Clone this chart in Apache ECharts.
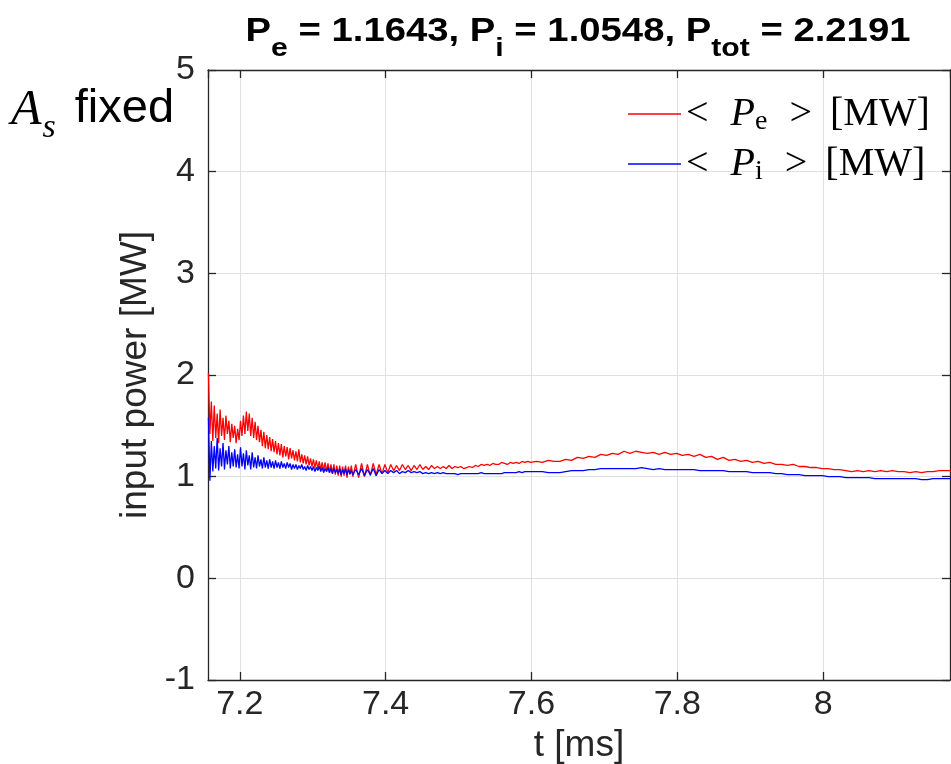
<!DOCTYPE html>
<html>
<head>
<meta charset="utf-8">
<script src="https://cdn.jsdelivr.net/npm/echarts@6/dist/echarts.min.js"></script>
<style>
html,body{margin:0;padding:0;background:#fff;}
#chart{width:951px;height:764px;}
</style>
</head>
<body>
<div id="chart"></div>
<script>
// ---- data ----
const tFast = [
7.157,7.159,7.161,7.163,7.165,7.167,7.169,7.171,7.173,7.175,
7.177,7.179,7.181,7.183,7.185,7.187,7.189,7.191,7.193,7.195,
7.197,7.199,7.201,7.203,7.205,7.207,7.209,7.211,7.213,7.215,
7.217,7.219,7.221,7.223,7.225,7.227,7.229,7.231,7.233,7.235,
7.237,7.239,7.241,7.243,7.245,7.247,7.249,7.251,7.253,7.255,
7.257,7.259,7.261,7.263,7.265,7.267,7.269,7.271,7.273,7.275,
7.277,7.279,7.281,7.283,7.285,7.287,7.289,7.291,7.293,7.295,
7.297,7.299,7.301,7.303,7.305,7.307,7.309,7.311,7.313,7.315,
7.317,7.319,7.321,7.323,7.325,7.327,7.329,7.331,7.333,7.335,
7.337,7.339,7.341,7.343,7.345,7.347,7.349,7.351,7.353,7.355];
const peFast = [
2.02,1.42,1.74,1.35,1.70,1.38,1.62,1.33,1.66,1.40,
1.58,1.36,1.60,1.42,1.55,1.34,1.52,1.38,1.50,1.33,
1.47,1.36,1.55,1.40,1.60,1.42,1.64,1.45,1.62,1.40,
1.58,1.38,1.54,1.36,1.50,1.34,1.46,1.30,1.44,1.28,
1.41,1.27,1.39,1.25,1.37,1.24,1.35,1.22,1.33,1.21,
1.32,1.19,1.30,1.20,1.29,1.17,1.28,1.18,1.26,1.16,
1.25,1.15,1.27,1.14,1.22,1.13,1.21,1.12,1.20,1.11,
1.18,1.10,1.17,1.09,1.16,1.08,1.15,1.07,1.14,1.06,
1.14,1.05,1.13,1.04,1.12,1.03,1.12,1.02,1.11,1.01,
1.11,1.00,1.10,1.01,1.11,0.99,1.10,1.02,1.11,1.00];
const piFast = [
1.58,0.96,1.35,1.05,1.30,1.08,1.38,1.06,1.28,1.10,
1.33,1.07,1.26,1.12,1.30,1.08,1.24,1.10,1.27,1.09,
1.22,1.08,1.29,1.10,1.23,1.07,1.26,1.11,1.21,1.07,
1.24,1.09,1.19,1.08,1.21,1.10,1.17,1.08,1.19,1.09,
1.16,1.08,1.17,1.09,1.15,1.08,1.16,1.09,1.14,1.08,
1.15,1.09,1.13,1.08,1.14,1.09,1.13,1.07,1.12,1.08,
1.12,1.07,1.11,1.08,1.12,1.07,1.10,1.06,1.11,1.07,
1.10,1.06,1.10,1.05,1.09,1.06,1.10,1.05,1.09,1.04,
1.08,1.05,1.09,1.04,1.08,1.03,1.08,1.04,1.07,1.03,
1.08,1.02,1.07,1.03,1.08,1.02,1.07,1.03,1.06,1.02];

const tMid = [
7.359,7.363,7.367,7.371,7.375,7.379,7.383,7.387,7.391,7.395,
7.399,7.403,7.407,7.411,7.415,7.419,7.423,7.427,7.431,7.435,
7.439,7.443,7.447,7.451,7.455,7.459,7.463,7.467,7.471,7.475,
7.479,7.483,7.487,7.491,7.495,7.499,7.503,7.507,7.511,7.515,
7.519,7.523,7.527,7.531,7.535,7.539,7.543,7.547,7.551,7.555,
7.559,7.563,7.567,7.571,7.575,7.579,7.583,7.587,7.591,7.595,
7.599];
const peMid = [
1.12,0.99,1.13,1.00,1.12,1.01,1.13,1.02,1.12,1.03,
1.12,1.04,1.12,1.06,1.11,1.06,1.12,1.07,1.11,1.06,
1.11,1.07,1.12,1.07,1.10,1.07,1.11,1.08,1.10,1.08,
1.10,1.08,1.11,1.08,1.10,1.09,1.10,1.08,1.09,1.10,
1.09,1.11,1.10,1.12,1.11,1.12,1.11,1.13,1.12,1.12,
1.14,1.13,1.12,1.14,1.13,1.14,1.13,1.15,1.14,1.15,
1.14];
const piMid = [
1.07,1.02,1.08,1.01,1.07,1.02,1.08,1.01,1.07,1.03,
1.06,1.03,1.06,1.04,1.06,1.03,1.05,1.04,1.06,1.04,
1.05,1.04,1.05,1.03,1.04,1.03,1.04,1.03,1.04,1.03,
1.04,1.03,1.03,1.03,1.03,1.02,1.03,1.03,1.03,1.03,
1.03,1.03,1.03,1.04,1.03,1.03,1.03,1.03,1.03,1.03,
1.03,1.04,1.04,1.04,1.04,1.04,1.05,1.04,1.05,1.05,
1.05];

const tSlow = [
7.607,7.615,7.623,7.631,7.639,7.647,7.655,7.663,7.671,7.679,
7.687,7.695,7.703,7.711,7.719,7.727,7.735,7.743,7.751,7.759,
7.767,7.775,7.783,7.791,7.799,7.807,7.815,7.823,7.831,7.839,
7.847,7.855,7.863,7.871,7.879,7.887,7.895,7.903,7.911,7.919,
7.927,7.935,7.943,7.951,7.959,7.967,7.975,7.983,7.991,7.999,
8.007,8.015,8.023,8.031,8.039,8.047,8.055,8.063,8.071,8.079,
8.087,8.095,8.103,8.111,8.119,8.127,8.135,8.143,8.151,8.159,
8.167,8.175];
const peSlow = [
1.15,1.14,1.16,1.15,1.15,1.17,1.16,1.19,1.18,1.20,
1.19,1.22,1.21,1.23,1.22,1.25,1.23,1.25,1.24,1.23,
1.24,1.22,1.24,1.22,1.23,1.21,1.22,1.20,1.22,1.19,
1.20,1.17,1.19,1.16,1.17,1.15,1.16,1.14,1.15,1.13,
1.14,1.12,1.12,1.11,1.12,1.10,1.10,1.09,1.09,1.08,
1.08,1.07,1.07,1.06,1.05,1.06,1.05,1.06,1.05,1.06,
1.05,1.06,1.05,1.05,1.04,1.05,1.04,1.05,1.05,1.06,
1.06,1.06];
const piSlow = [
1.05,1.05,1.04,1.04,1.04,1.05,1.06,1.06,1.06,1.07,
1.07,1.08,1.08,1.08,1.08,1.08,1.08,1.08,1.09,1.08,
1.07,1.08,1.07,1.07,1.07,1.07,1.07,1.07,1.06,1.06,
1.06,1.06,1.06,1.05,1.05,1.05,1.05,1.04,1.04,1.04,
1.04,1.03,1.03,1.02,1.02,1.02,1.01,1.01,1.01,1.01,
1.00,1.00,1.00,0.99,0.99,0.99,0.99,0.99,0.98,0.98,
0.98,0.98,0.98,0.98,0.98,0.98,0.97,0.97,0.98,0.98,
0.98,0.98];

const xRange = [7.1564, 8.174];
const yRange = [-1, 5];
const seriesNames = ['Pe', 'Pi'];
const titleText = '{b|P}{s|e}{b| = 1.1643, P}{s|i}{b| = 1.0548, P}{s|tot}{b| = 2.2191}';

// ---- build ----
function pairs(ts, vs) { return ts.map((t, i) => [t, vs[i]]); }
const peData = pairs(tFast, peFast).concat(pairs(tMid, peMid), pairs(tSlow, peSlow));
const piData = pairs(tFast, piFast).concat(pairs(tMid, piMid), pairs(tSlow, piSlow));

const AX = '#262626';
const GRID = '#e0e0e0';
const SANS = 'Liberation Sans';
const SERIF = 'Liberation Serif';

const chart = echarts.init(document.getElementById('chart'), null, {renderer: 'canvas'});

const legendRich = {
  n: {fontFamily: SERIF, fontSize: 40, lineHeight: 44, color: '#000'},
  g: {fontFamily: SERIF, fontSize: 40, lineHeight: 44, color: '#000', width: 22},
  g2: {fontFamily: SERIF, fontSize: 40, lineHeight: 44, color: '#000', width: 18},
  i: {fontFamily: SERIF, fontStyle: 'italic', fontSize: 40, lineHeight: 44, color: '#000'},
  s: {fontFamily: SERIF, fontSize: 28, lineHeight: 30, color: '#000', verticalAlign: 'bottom'}
};

const option = {
  animation: false,
  backgroundColor: '#ffffff',
  grid: {left: 208, right: 1, top: 70, bottom: 84, containLabel: false, outerBoundsMode: 'none'},
  legend: {
    data: seriesNames,
    orient: 'vertical',
    left: 628,
    top: 94,
    icon: 'rect',
    itemWidth: 53,
    itemHeight: 1.5,
    itemGap: 8,
    padding: 0,
    formatter: function (name) {
      const sub = name === 'Pe' ? 'e' : 'i';
      return '{n|<}{g| }{i|P}{s|' + sub + '}{g| }{n|>}{g2| }{n|[MW]}';
    },
    textStyle: {rich: legendRich}
  },
  xAxis: [{
    type: 'value', position: 'bottom',
    min: xRange[0], max: xRange[1], splitNumber: 5,
    axisLine: {show: true, onZero: false, lineStyle: {color: AX, width: 1.3}},
    axisTick: {show: true, inside: true, length: 8, lineStyle: {color: AX, width: 1.3}},
    axisLabel: {showMinLabel: false, showMaxLabel: false, fontFamily: SANS, fontSize: 34, color: AX, margin: 8},
    splitLine: {show: true, lineStyle: {color: GRID, width: 1}},
    name: 't [ms]', nameLocation: 'middle', nameGap: 44,
    nameTextStyle: {fontFamily: SANS, fontSize: 37, color: AX}
  }, {
    type: 'value', position: 'top',
    min: xRange[0], max: xRange[1], splitNumber: 5,
    axisLine: {show: true, onZero: false, lineStyle: {color: AX, width: 1.3}},
    axisTick: {show: true, inside: true, length: 8, lineStyle: {color: AX, width: 1.3}},
    axisLabel: {show: false},
    splitLine: {show: false}
  }],
  yAxis: [{
    type: 'value', position: 'left',
    min: yRange[0], max: yRange[1], interval: 1,
    axisLine: {show: true, onZero: false, lineStyle: {color: AX, width: 1.3}},
    axisTick: {show: true, inside: true, length: 8, lineStyle: {color: AX, width: 1.3}},
    axisLabel: {fontFamily: SANS, fontSize: 34, color: AX, margin: 13},
    splitLine: {show: true, lineStyle: {color: GRID, width: 1}},
    name: 'input power [MW]', nameLocation: 'middle', nameGap: 42, nameRotate: 90,
    nameTextStyle: {fontFamily: SANS, fontSize: 37, color: AX}
  }, {
    type: 'value', position: 'right',
    min: yRange[0], max: yRange[1], interval: 1,
    axisLine: {show: true, onZero: false, lineStyle: {color: AX, width: 1.3}},
    axisTick: {show: true, inside: true, length: 8, lineStyle: {color: AX, width: 1.3}},
    axisLabel: {show: false},
    splitLine: {show: false}
  }],
  series: [{
    name: 'Pe', type: 'line', xAxisIndex: 0, yAxisIndex: 0,
    data: peData, symbol: 'none', showSymbol: false, sampling: null,
    lineStyle: {color: '#ff0000', width: 1.3}, itemStyle: {color: '#ff0000'}, z: 3
  }, {
    name: 'Pi', type: 'line', xAxisIndex: 0, yAxisIndex: 0,
    data: piData, symbol: 'none', showSymbol: false, sampling: null,
    lineStyle: {color: '#0000ff', width: 1.3}, itemStyle: {color: '#0000ff'}, z: 4
  }],
  graphic: [{
    type: 'text', x: 578, y: 15, z: 10, scaleX: 1.16,
    style: {
      text: titleText, align: 'center', verticalAlign: 'top',
      rich: {
        b: {fontFamily: SANS, fontWeight: 'bold', fontSize: 33, lineHeight: 40, color: '#000', verticalAlign: 'top'},
        s: {fontFamily: SANS, fontWeight: 'bold', fontSize: 26, lineHeight: 26, padding: [21, 0, 0, 0], color: '#000', verticalAlign: 'top'}
      }
    }
  }, {
    type: 'text', x: 11, y: 86, z: 10,
    style: {
      text: '{a|A}{s|s}{f|fixed}', align: 'left', verticalAlign: 'top',
      rich: {
        a: {fontFamily: SERIF, fontStyle: 'italic', fontSize: 50, lineHeight: 50, color: '#000', verticalAlign: 'top'},
        s: {fontFamily: SERIF, fontStyle: 'italic', fontSize: 34, lineHeight: 32, padding: [25, 19, 0, 1], color: '#000', verticalAlign: 'top'},
        f: {fontFamily: SANS, fontSize: 47, lineHeight: 50, color: '#000', verticalAlign: 'top'}
      }
    }
  }]
};
chart.setOption(option);
</script>
</body>
</html>
